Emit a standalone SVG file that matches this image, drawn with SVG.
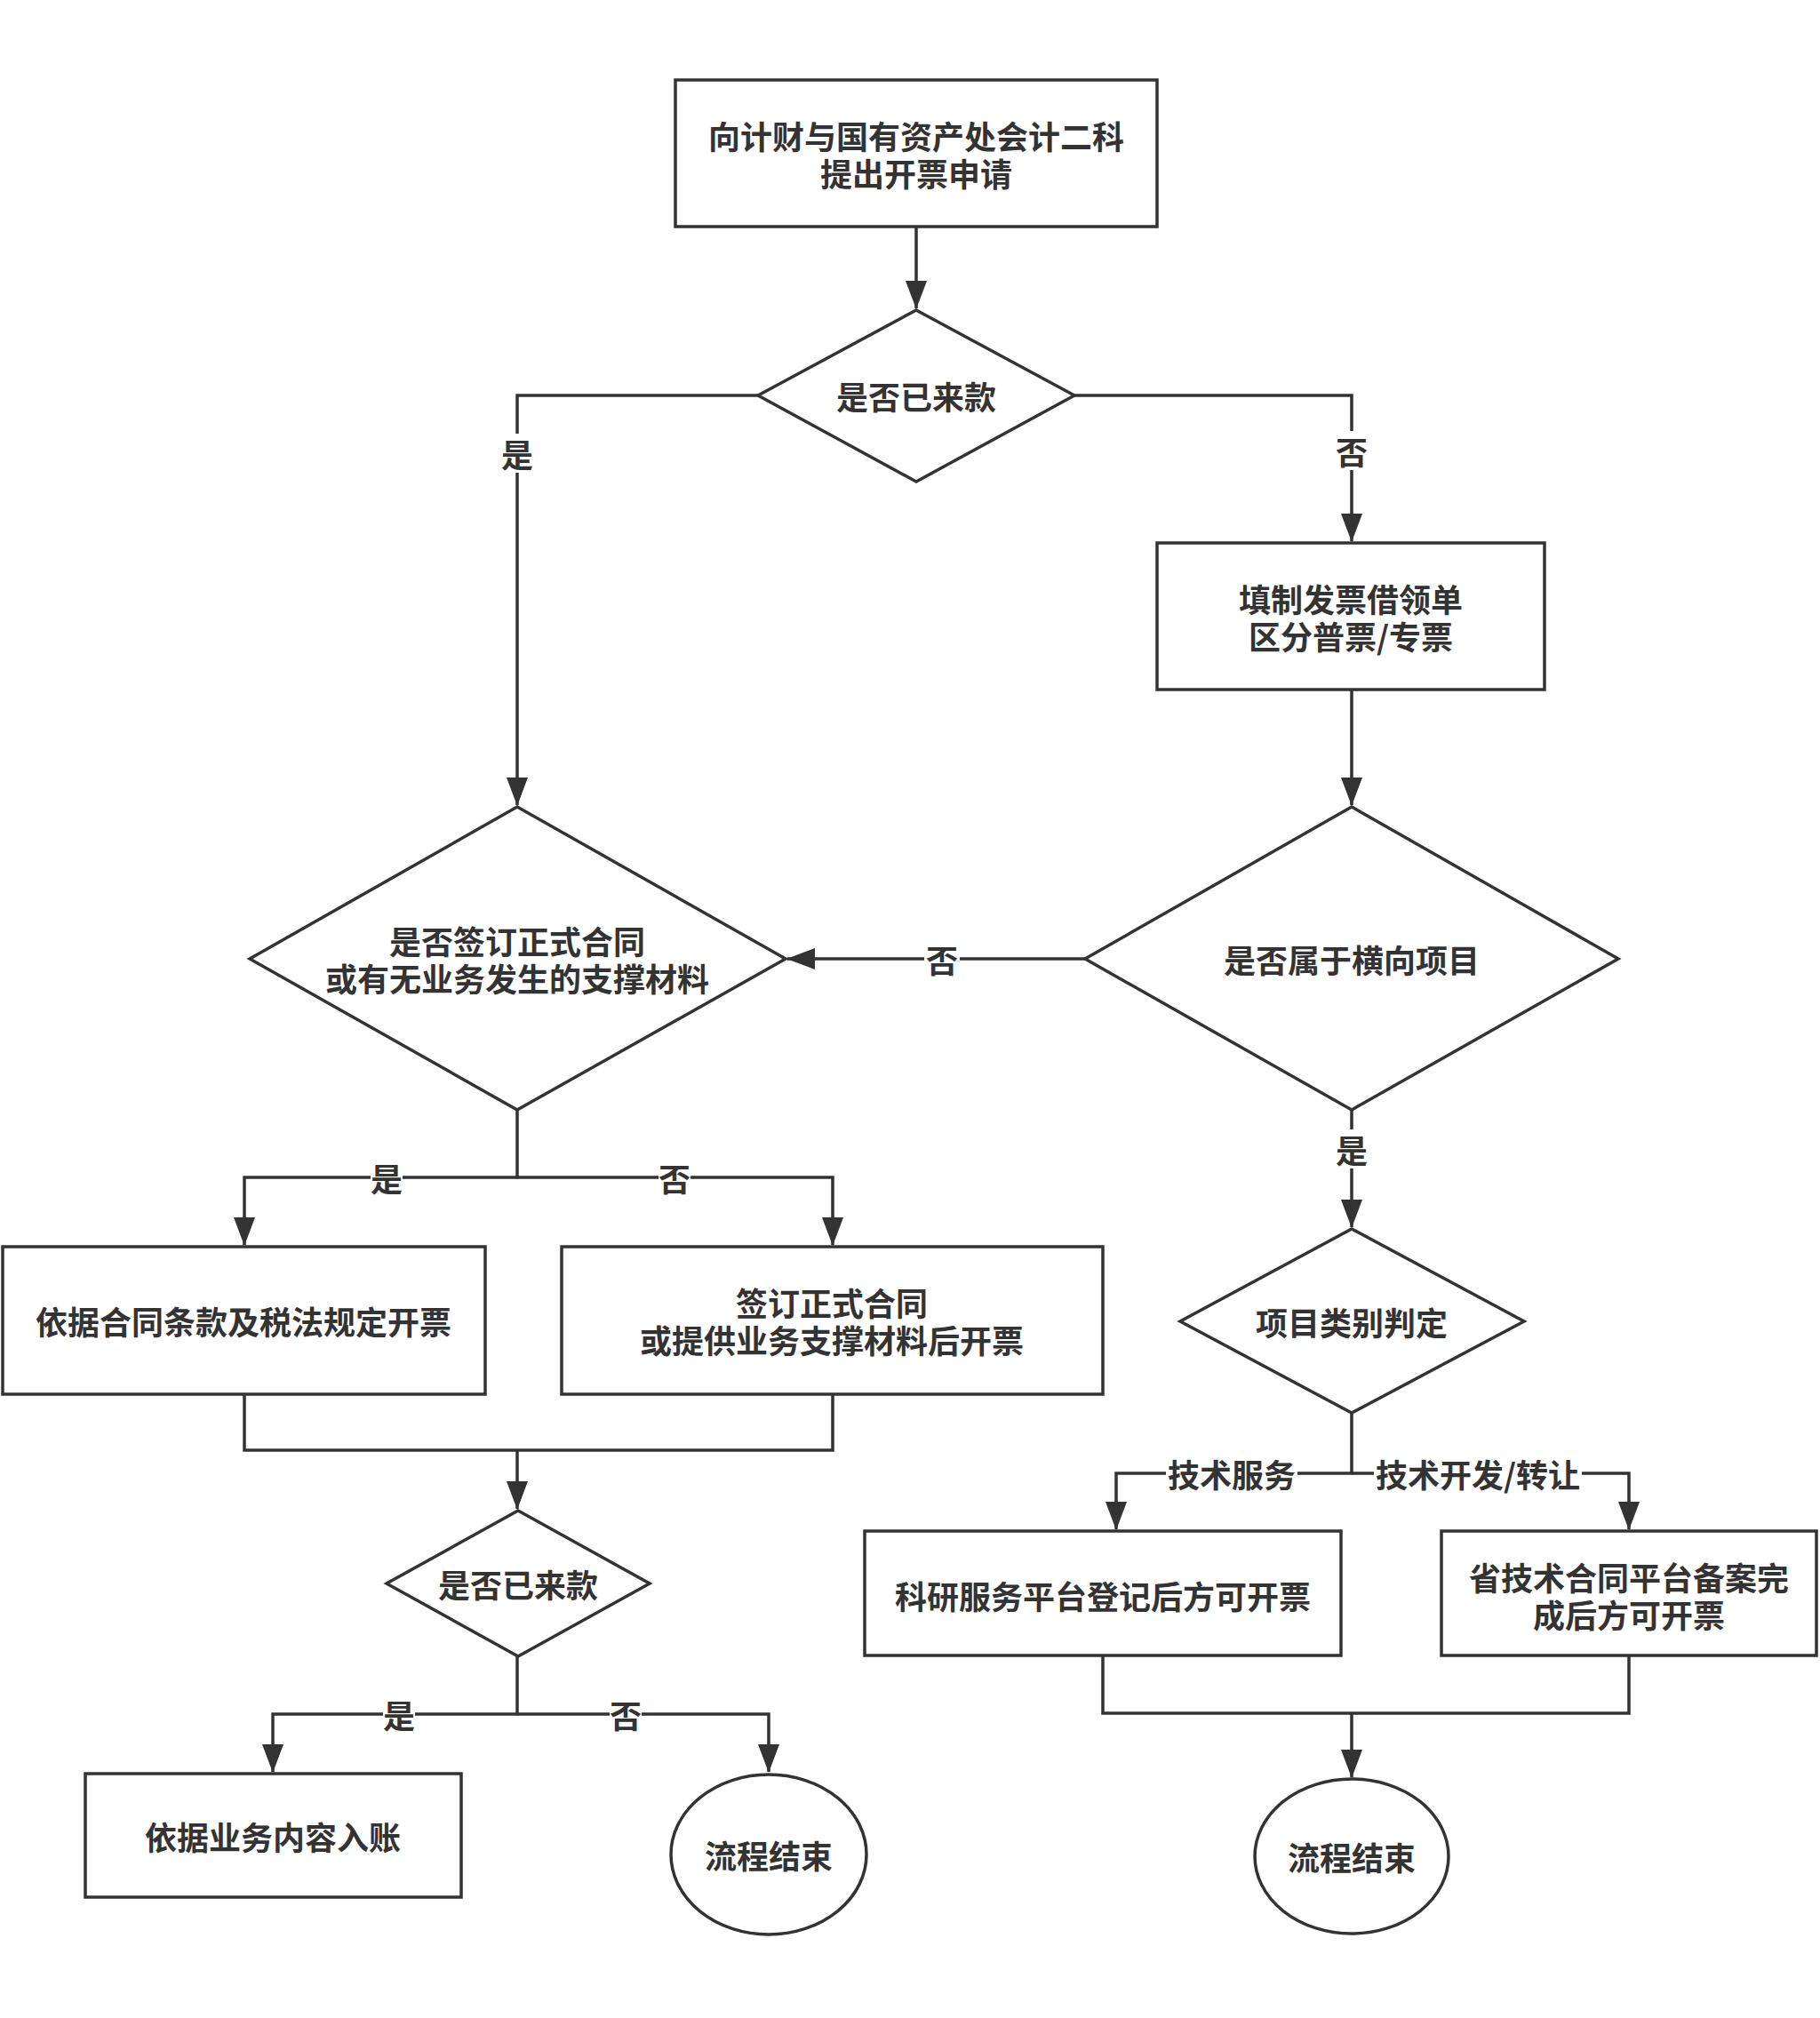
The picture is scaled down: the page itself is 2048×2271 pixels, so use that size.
<svg xmlns="http://www.w3.org/2000/svg" width="2048" height="2271" viewBox="0 0 2048 2271">
<style>
.n{fill:#fff;stroke:#333;stroke-width:3.5}
.t{font-family:"Noto Sans CJK SC","Noto Sans",sans-serif;font-weight:bold;font-size:36px;fill:#333;text-anchor:middle;dominant-baseline:central}
.c{fill:none;stroke:#333;stroke-width:3.5}
.lb{fill:#fff}
</style>
<defs>
<marker id="a" markerUnits="userSpaceOnUse" markerWidth="32" markerHeight="24" refX="31" refY="12" orient="auto" viewBox="0 0 32 24">
<path d="M0,0 L32,12 L0,24 Z" fill="#333"/>
</marker>
</defs>
<rect width="2048" height="2271" fill="#fff"/>
<g id="connectors">
<path class="c" d="M1031,255 V347" marker-end="url(#a)"/>
<path class="c" d="M853,445 H582 V906" marker-end="url(#a)"/>
<path class="c" d="M1209,445 H1521 V609" marker-end="url(#a)"/>
<path class="c" d="M1521,776 V906" marker-end="url(#a)"/>
<path class="c" d="M1221,1079 H886" marker-end="url(#a)"/>
<path class="c" d="M1521,1249 V1381" marker-end="url(#a)"/>
<path class="c" d="M1521,1590 V1658 H1256 V1721" marker-end="url(#a)"/>
<path class="c" d="M1521,1658 H1833 V1721" marker-end="url(#a)"/>
<path class="c" d="M1241,1863 V1928 H1833 V1863"/>
<path class="c" d="M1521,1928 V2000" marker-end="url(#a)"/>
<path class="c" d="M582,1249 V1325 H275 V1401" marker-end="url(#a)"/>
<path class="c" d="M582,1325 H937 V1401" marker-end="url(#a)"/>
<path class="c" d="M275,1569 V1632 H937 V1569"/>
<path class="c" d="M582,1632 V1698" marker-end="url(#a)"/>
<path class="c" d="M582,1864 V1929 H307 V1994" marker-end="url(#a)"/>
<path class="c" d="M582,1929 H865 V1994" marker-end="url(#a)"/>
<g id="edge-labels">
<rect class="lb" x="564" y="488" width="36" height="44"/><text class="t" x="582" y="510">是</text>
<rect class="lb" x="1503" y="485" width="36" height="44"/><text class="t" x="1521" y="507">否</text>
<rect class="lb" x="1040" y="1058" width="40" height="42"/><text class="t" x="1060" y="1079">否</text>
<rect class="lb" x="1503" y="1271" width="36" height="44"/><text class="t" x="1521" y="1293">是</text>
<rect class="lb" x="1312" y="1637" width="148" height="42"/><text class="t" x="1386" y="1658">技术服务</text>
<rect class="lb" x="1546" y="1637" width="234" height="42"/><text class="t" x="1663" y="1658">技术开发/转让</text>
<rect class="lb" x="417" y="1304" width="36" height="42"/><text class="t" x="435" y="1325">是</text>
<rect class="lb" x="741" y="1304" width="36" height="42"/><text class="t" x="759" y="1325">否</text>
<rect class="lb" x="431" y="1908" width="36" height="42"/><text class="t" x="449" y="1929">是</text>
<rect class="lb" x="686" y="1908" width="36" height="42"/><text class="t" x="704" y="1929">否</text>
</g>
</g>
<g id="start">
<rect class="n" x="760" y="90" width="542" height="165"/>
<text class="t" x="1031" y="152">向计财与国有资产处会计二科</text>
<text class="t" x="1031" y="194">提出开票申请</text>
</g>
<g id="d-paid1">
<polygon class="n" points="1031,349 1209,445 1031,542 853,445"/>
<text class="t" x="1031" y="445">是否已来款</text>
</g>
<g id="fill-form">
<rect class="n" x="1302" y="611" width="436" height="165"/>
<text class="t" x="1520" y="673">填制发票借领单</text>
<text class="t" x="1520" y="715">区分普票/专票</text>
</g>
<g id="d-horizontal">
<polygon class="n" points="1521,908 1821,1079 1521,1249 1221,1079"/>
<text class="t" x="1521" y="1079">是否属于横向项目</text>
</g>
<g id="d-contract">
<polygon class="n" points="582,908 884,1079 582,1249 281,1079"/>
<text class="t" x="582" y="1058">是否签订正式合同</text>
<text class="t" x="582" y="1100">或有无业务发生的支撑材料</text>
</g>
<g id="d-category">
<polygon class="n" points="1521,1383 1715,1487 1521,1590 1328,1487"/>
<text class="t" x="1521" y="1487">项目类别判定</text>
</g>
<g id="invoice-contract">
<rect class="n" x="3" y="1403" width="543" height="166"/>
<text class="t" x="274" y="1486">依据合同条款及税法规定开票</text>
</g>
<g id="invoice-after">
<rect class="n" x="632" y="1403" width="609" height="166"/>
<text class="t" x="936" y="1465">签订正式合同</text>
<text class="t" x="936" y="1507">或提供业务支撑材料后开票</text>
</g>
<g id="sci-platform">
<rect class="n" x="973" y="1723" width="536" height="140"/>
<text class="t" x="1241" y="1795">科研服务平台登记后方可开票</text>
</g>
<g id="prov-platform">
<rect class="n" x="1622" y="1723" width="422" height="140"/>
<text class="t" x="1833" y="1774">省技术合同平台备案完</text>
<text class="t" x="1833" y="1816">成后方可开票</text>
</g>
<g id="d-paid2">
<polygon class="n" points="583,1700 731,1782 583,1864 435,1782"/>
<text class="t" x="583" y="1782">是否已来款</text>
</g>
<g id="book">
<rect class="n" x="96" y="1996" width="423" height="139"/>
<text class="t" x="307" y="2066">依据业务内容入账</text>
</g>
<g id="end-left">
<ellipse class="n" cx="865" cy="2087" rx="110" ry="90"/>
<text class="t" x="865" y="2087">流程结束</text>
</g>
<g id="end-right">
<ellipse class="n" cx="1521" cy="2089" rx="109" ry="87"/>
<text class="t" x="1521" y="2089">流程结束</text>
</g>
</svg>
